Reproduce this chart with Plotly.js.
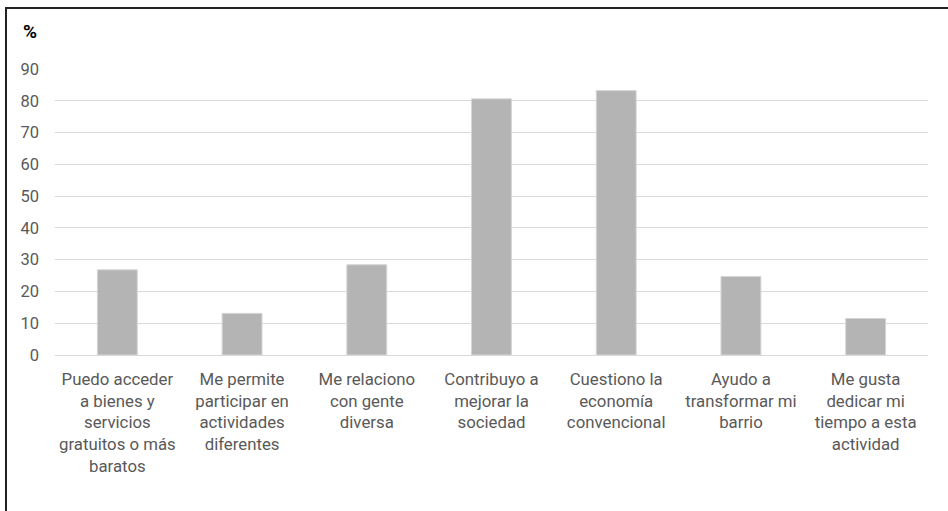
<!DOCTYPE html>
<html>
<head>
<meta charset="utf-8">
<script src="https://cdn.plot.ly/plotly-3.0.1.min.js"></script>
<style>
html,body{margin:0;padding:0;background:#fff;}
#wrap{position:absolute;left:0;top:0;width:948px;height:511px;}
#frame{position:absolute;left:5px;top:7px;width:943px;height:504px;border-top:2px solid #222;border-left:2px solid #222;box-sizing:border-box;pointer-events:none;}
#chart{position:absolute;left:0;top:0;width:948px;height:511px;}
</style>
</head>
<body>
<div id="wrap">
<div id="chart"></div>
<div id="frame"></div>
</div>
<script>
const categories = [
  "Puedo acceder<br>a bienes y<br>servicios<br>gratuitos o más<br>baratos",
  "Me permite<br>participar en<br>actividades<br>diferentes",
  "Me relaciono<br>con gente<br>diversa",
  "Contribuyo a<br>mejorar la<br>sociedad",
  "Cuestiono la<br>economía<br>convencional",
  "Ayudo a<br>transformar mi<br>barrio",
  "Me gusta<br>dedicar mi<br>tiempo a esta<br>actividad"
];
const values = [26.8, 13.1, 28.4, 80.6, 83.2, 24.7, 11.5];
const yTicks = [0, 10, 20, 30, 40, 50, 60, 70, 80, 90];
const yUnit = "%";

const fontFam = "Roboto, 'Open Sans', sans-serif";

Plotly.newPlot("chart", [{
  type: "bar",
  x: categories,
  y: values,
  marker: {color: "#b4b4b4", line: {color: "#d6d6d6", width: 1}},
  hoverinfo: "none"
}], {
  width: 948, height: 511,
  margin: {l: 55, r: 20, t: 68.5, b: 155.5, pad: 0},
  paper_bgcolor: "#fff", plot_bgcolor: "#fff",
  bargap: 0.68,
  showlegend: false,
  font: {family: fontFam, size: 16, color: "#595959"},
  xaxis: {
    type: "category",
    showgrid: false, showline: false, zeroline: false, ticks: "",
    tickangle: 0,
    ticklabelstandoff: 12,
    tickfont: {family: fontFam, size: 16.8, color: "#595959"}
  },
  yaxis: {
    range: [0, 90],
    tickvals: yTicks,
    ticktext: yTicks.map(String),
    showgrid: true, gridcolor: "#d9d9d9", gridwidth: 1,
    zeroline: true, zerolinecolor: "#d9d9d9", zerolinewidth: 1,
    showline: false, ticks: "",
    ticklabelstandoff: 15,
    tickfont: {family: fontFam, size: 16.5, color: "#595959"}
  },
  annotations: [{
    text: "<b>" + yUnit + "</b>",
    xref: "paper", yref: "paper",
    x: -0.039, y: 1.13, xanchor: "left", yanchor: "middle",
    showarrow: false,
    font: {family: fontFam, size: 19, color: "#000"}
  }]
}, {displayModeBar: false, staticPlot: true});
</script>
</body>
</html>
